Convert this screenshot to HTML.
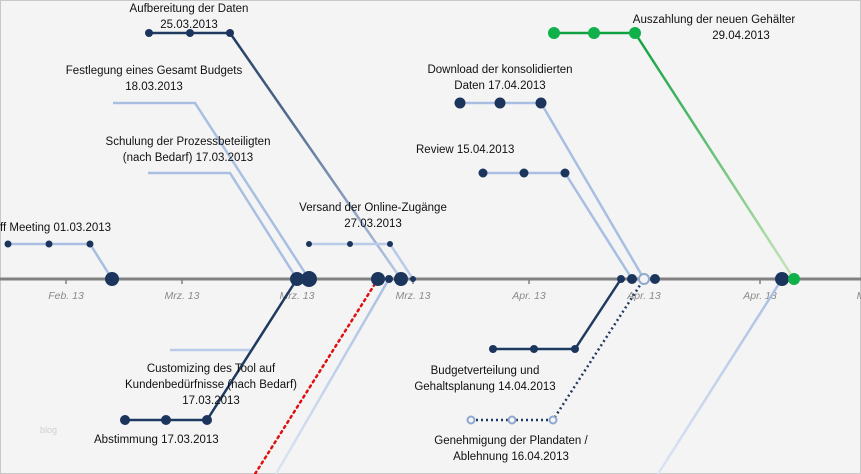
<!DOCTYPE html>
<html><head><meta charset="utf-8"><style>
html,body{margin:0;padding:0;background:#f4f4f4}
svg{display:block}
text{font-family:"Liberation Sans",sans-serif;font-size:11.5px;fill:#111}
.ax{font-style:italic;fill:#8a8a8a;font-size:10.5px}
</style></head><body>
<svg width="861" height="474" viewBox="0 0 861 474" xmlns="http://www.w3.org/2000/svg">
<defs>
<linearGradient id="gD" x1="0" y1="0" x2="0" y2="1"><stop offset="0" stop-color="#1f3a60"/><stop offset="1" stop-color="#b9cbe8"/></linearGradient>
<linearGradient id="gG" x1="0" y1="0" x2="0" y2="1"><stop offset="0" stop-color="#10a040"/><stop offset="1" stop-color="#c8e6b8"/></linearGradient>
<linearGradient id="gL" x1="0" y1="0" x2="0" y2="1"><stop offset="0" stop-color="#a9bfe2"/><stop offset="1" stop-color="#dbe4f2"/></linearGradient>
</defs>
<rect x="0.5" y="0.5" width="860" height="473" fill="#f4f4f4" stroke="#c8c8c8"/>
<line x1="0" y1="279" x2="861" y2="279" stroke="#808080" stroke-width="3"/>
<g stroke="#808080" stroke-width="1.5">
<line x1="66" y1="279" x2="66" y2="284"/><line x1="182" y1="279" x2="182" y2="284"/><line x1="297" y1="279" x2="297" y2="284"/><line x1="413" y1="279" x2="413" y2="284"/><line x1="529" y1="279" x2="529" y2="284"/><line x1="644" y1="279" x2="644" y2="284"/><line x1="760" y1="279" x2="760" y2="284"/>
</g>
<g text-anchor="middle">
<text class="ax" x="66" y="299">Feb. 13</text><text class="ax" x="182" y="299">Mrz. 13</text><text class="ax" x="297" y="299">Mrz. 13</text><text class="ax" x="413" y="299">Mrz. 13</text><text class="ax" x="529" y="299">Apr. 13</text><text class="ax" x="644" y="299">Apr. 13</text><text class="ax" x="760" y="299">Apr. 13</text><text class="ax" x="861" y="299">M</text>
</g>
<g fill="none" stroke-width="2.5">
<polyline points="8,244 90,244 112,279" stroke="#a9bfe2"/>
<polyline points="113,103 195,103 309,279" stroke="#a9bfe2"/>
<polyline points="148,173 230,173 297,279" stroke="#a9bfe2"/>
<polyline points="149,33 230,33" stroke="#1f3a60"/>
<line x1="230" y1="33" x2="401" y2="279" stroke="url(#gD)"/>
<polyline points="309,244 390,244 413,279" stroke="#b9cbe8"/>
<polyline points="170,350 250,350" stroke="#b9cbe8"/>
<polyline points="125,420 207,420 297,279" stroke="#1f3a60"/>
<line x1="378" y1="279" x2="255" y2="474" stroke="#e01010" stroke-dasharray="2,4" stroke-linecap="round"/>
<line x1="389" y1="279" x2="276" y2="474" stroke="url(#gL)"/>
<polyline points="460,103 541,103 644,279" stroke="#a9bfe2"/>
<polyline points="483,173 565,173 632,279" stroke="#a9bfe2"/>
<polyline points="493,349 575,349 621,279" stroke="#1f3a60"/>
<polyline points="471,420 553,420 644,279" stroke="#1f3a60" stroke-dasharray="2,3"/>
<polyline points="554,33 635,33" stroke="#10a040"/>
<line x1="635" y1="33" x2="794" y2="279" stroke="url(#gG)"/>
<line x1="782" y1="279" x2="658" y2="474" stroke="url(#gL)"/>
</g>
<g fill="#1b355c">
<circle cx="8" cy="244" r="3.5"/><circle cx="49" cy="244" r="3.5"/><circle cx="90" cy="244" r="3.5"/>
<circle cx="149" cy="33" r="4"/><circle cx="190" cy="33" r="4"/><circle cx="230" cy="33" r="4"/>
<circle cx="309" cy="244" r="3"/><circle cx="350" cy="244" r="3"/><circle cx="390" cy="244" r="3"/>
<circle cx="125" cy="420" r="5"/><circle cx="166" cy="420" r="5"/><circle cx="207" cy="420" r="5"/>
<circle cx="460" cy="103" r="5.5"/><circle cx="500" cy="103" r="5.5"/><circle cx="541" cy="103" r="5.5"/>
<circle cx="483" cy="173" r="4.5"/><circle cx="524" cy="173" r="4.5"/><circle cx="565" cy="173" r="4.5"/>
<circle cx="493" cy="349" r="4"/><circle cx="534" cy="349" r="4"/><circle cx="575" cy="349" r="4"/>
<circle cx="112" cy="279" r="7"/><circle cx="297" cy="279" r="7"/><circle cx="309" cy="279" r="8"/>
<circle cx="378" cy="279" r="7"/><circle cx="389" cy="279" r="4"/><circle cx="401" cy="279" r="7"/><circle cx="413" cy="279" r="3"/>
<circle cx="621" cy="279" r="4"/><circle cx="632" cy="279" r="5"/><circle cx="655" cy="279" r="5"/><circle cx="782" cy="279" r="7"/>
</g>
<g fill="#f4f4f4" stroke="#8ea8cf" stroke-width="2">
<circle cx="471" cy="420" r="3.5"/><circle cx="512" cy="420" r="3.5"/><circle cx="553" cy="420" r="3.5"/>
<circle cx="644" cy="279" r="5"/>
</g>
<g fill="#10b04a">
<circle cx="554" cy="33" r="6"/><circle cx="594" cy="33" r="6"/><circle cx="635" cy="33" r="6"/><circle cx="794" cy="279" r="6"/>
</g>
<g text-anchor="middle">
<text x="189" y="12">Aufbereitung  der Daten</text><text x="189" y="28">25.03.2013</text>
<text x="154" y="74">Festlegung eines Gesamt Budgets</text><text x="154" y="90">18.03.2013</text>
<text x="188" y="145">Schulung der Prozessbeteiligten</text><text x="188" y="161">(nach Bedarf)    17.03.2013</text>
<text x="373" y="211">Versand der Online-Zugänge</text><text x="373" y="227">27.03.2013</text>
<text x="211" y="372">Customizing des Tool auf</text><text x="211" y="388">Kundenbedürfnisse (nach Bedarf)</text><text x="211" y="404">17.03.2013</text>
<text x="500" y="73">Download der konsolidierten</text><text x="500" y="89">Daten    17.04.2013</text>
<text x="714" y="23">Auszahlung der neuen  Gehälter</text><text x="741" y="39">29.04.2013</text>
<text x="485" y="374">Budgetverteilung und</text><text x="485" y="390">Gehaltsplanung  14.04.2013</text>
<text x="511" y="444">Genehmigung  der Plandaten /</text><text x="511" y="460">Ablehnung   16.04.2013</text>
</g>
<text x="0" y="231">ff Meeting     01.03.2013</text>
<text x="416" y="153">Review    15.04.2013</text>
<text x="94" y="443">Abstimmung     17.03.2013</text>
<text x="40" y="433" style="fill:#d0d0d0;font-size:9px">blog</text>
</svg>
</body></html>
